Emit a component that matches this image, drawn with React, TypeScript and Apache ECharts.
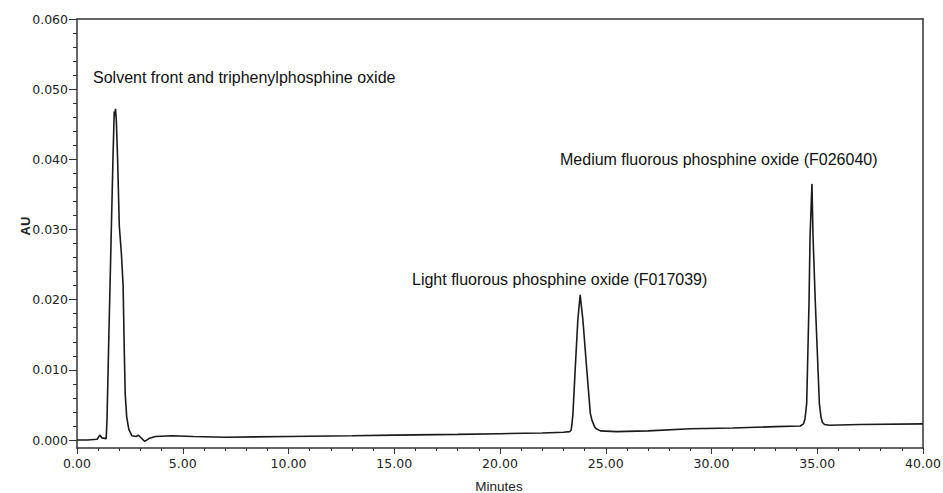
import React, { useEffect, useRef } from "react";
import * as echarts from "echarts";

// Chromatogram trace: retention time (minutes) and absorbance (AU)
const timeMinutes: number[] = [
  0.0, 0.5, 0.95, 1.08, 1.18, 1.38, 1.42, 1.5, 1.6, 1.7, 1.76, 1.79, 1.82, 1.86, 1.92, 2.0, 2.1, 2.18,
  2.24, 2.28, 2.35, 2.45, 2.6, 2.8, 2.9, 3.0, 3.2, 3.4, 3.7, 4.5, 5.5, 7.0, 10.0, 13.0, 15.0, 18.0,
  20.0, 22.0, 23.0, 23.3, 23.36, 23.4, 23.45, 23.57, 23.68, 23.79, 23.92, 24.08, 24.27, 24.35, 24.47,
  24.55, 24.75, 25.5, 27.0, 29.0, 31.0, 33.0, 34.2, 34.35, 34.42, 34.5, 34.61, 34.66, 34.75, 34.8,
  34.91, 35.1, 35.18, 35.25, 35.35, 35.57, 37.0, 40.0,
];
const absorbanceAU: number[] = [
  0.0, 0.0, 0.0001, 0.0007, 0.0003, 0.0002, 0.003, 0.014, 0.027, 0.04, 0.0468, 0.0462, 0.0472, 0.0455,
  0.04, 0.0305, 0.0265, 0.022, 0.012, 0.0065, 0.0033, 0.0015, 0.0006, 0.0005, 0.0007, 0.0004, -0.0002,
  0.0002, 0.0005, 0.0006, 0.0005, 0.0004, 0.0005, 0.0006, 0.0007, 0.0008, 0.0009, 0.001, 0.0011,
  0.0012, 0.0014, 0.0022, 0.0038, 0.0109, 0.0171, 0.0207, 0.0171, 0.0109, 0.0038, 0.0028, 0.0019,
  0.0016, 0.0013, 0.0012, 0.0013, 0.0016, 0.0017, 0.0019, 0.002, 0.0023, 0.003, 0.0052, 0.0195,
  0.029, 0.0365, 0.029, 0.0195, 0.0052, 0.0032, 0.0025, 0.0022, 0.0021, 0.0022, 0.0023,
];

const yMajorTicks: number[] = [0, 0.01, 0.02, 0.03, 0.04, 0.05, 0.06];
const yMinorTicks: number[] = [
  0.002, 0.004, 0.006, 0.008, 0.012, 0.014, 0.016, 0.018, 0.022, 0.024, 0.026, 0.028, 0.032, 0.034,
  0.036, 0.038, 0.042, 0.044, 0.046, 0.048, 0.052, 0.054, 0.056, 0.058,
];

const annotations: { text: string; x: number; y: number }[] = [
  { text: "Solvent front and triphenylphosphine oxide", x: 93, y: 77 },
  { text: "Light fluorous phosphine oxide (F017039)", x: 412, y: 279 },
  { text: "Medium fluorous phosphine oxide (F026040)", x: 560, y: 159 },
];

const xAxisTitle = "Minutes";
const yAxisTitle = "AU";

export default function App() {
  const ref = useRef<HTMLDivElement>(null);

  useEffect(() => {
    if (!ref.current) return;
    const chart = echarts.init(ref.current, null, { renderer: "svg" });
    const axisColor = "#333";
    const labelFont = {
      color: "#222",
      fontFamily: "DejaVu Sans",
      fontSize: 12.5,
    };
    const data = timeMinutes.map((t, i) => [t, absorbanceAU[i]]);

    chart.setOption({
      animation: false,
      backgroundColor: "#fff",
      grid: { left: 77, right: 20, top: 19, bottom: 45, containLabel: false, outerBoundsMode: "none" },
      xAxis: [
        {
          type: "value",
          min: 0,
          max: 40,
          interval: 5,
          position: "bottom",
          axisLine: { show: true, onZero: false, lineStyle: { color: axisColor, width: 1.5 } },
          axisTick: { show: true, length: 6, lineStyle: { color: axisColor } },
          minorTick: { show: true, splitNumber: 5, length: 3, lineStyle: { color: axisColor } },
          axisLabel: {
            ...labelFont,
            margin: 9,
            formatter: (v: number) => v.toFixed(2),
          },
          splitLine: { show: false },
        },
        {
          type: "value",
          min: 0,
          max: 40,
          position: "top",
          axisLine: { show: true, onZero: false, lineStyle: { color: axisColor, width: 1.5 } },
          axisTick: { show: false },
          axisLabel: { show: false },
          splitLine: { show: false },
        },
      ],
      yAxis: [
        {
          type: "value",
          min: -0.00114,
          max: 0.06,
          position: "left",
          axisLine: { show: true, onZero: false, lineStyle: { color: axisColor, width: 1.5 } },
          axisTick: { show: true, length: 8, customValues: yMajorTicks, lineStyle: { color: axisColor } },
          axisLabel: {
            ...labelFont,
            margin: 9,
            customValues: yMajorTicks,
            formatter: (v: number) => v.toFixed(3),
          },
          splitLine: { show: false },
        },
        {
          type: "value",
          min: -0.00114,
          max: 0.06,
          position: "left",
          offset: 0,
          axisLine: { show: false, onZero: false },
          axisTick: { show: true, length: 4, customValues: yMinorTicks, lineStyle: { color: axisColor } },
          axisLabel: { show: false, customValues: yMinorTicks },
          splitLine: { show: false },
        },
        {
          type: "value",
          min: -0.00114,
          max: 0.06,
          position: "right",
          axisLine: { show: true, onZero: false, lineStyle: { color: axisColor, width: 1.5 } },
          axisTick: { show: false },
          axisLabel: { show: false },
          splitLine: { show: false },
        },
      ],
      series: [
        {
          type: "line",
          xAxisIndex: 0,
          yAxisIndex: 0,
          data,
          showSymbol: false,
          symbol: "none",
          lineStyle: { color: "#1a1a1a", width: 1.6 },
          silent: true,
        },
      ],
      graphic: [
        {
          type: "text",
          x: 25,
          y: 226,
          rotation: Math.PI / 2,
          style: {
            text: yAxisTitle,
            fill: "#222",
            font: "bold 13px 'Liberation Sans'",
            align: "center",
            verticalAlign: "middle",
          },
        },
        {
          type: "text",
          x: 499,
          y: 486,
          style: {
            text: xAxisTitle,
            fill: "#222",
            font: "13.5px 'Liberation Sans'",
            align: "center",
            verticalAlign: "middle",
          },
        },
        ...annotations.map((a) => ({
          type: "text",
          x: a.x,
          y: a.y,
          style: {
            text: a.text,
            fill: "#111",
            font: "16px 'Liberation Sans'",
            align: "left",
            verticalAlign: "middle",
          },
        })),
      ],
    });

    return () => chart.dispose();
  }, []);

  return <div ref={ref} style={{ width: 943, height: 493, position: "absolute", left: 0, top: 0 }} />;
}
